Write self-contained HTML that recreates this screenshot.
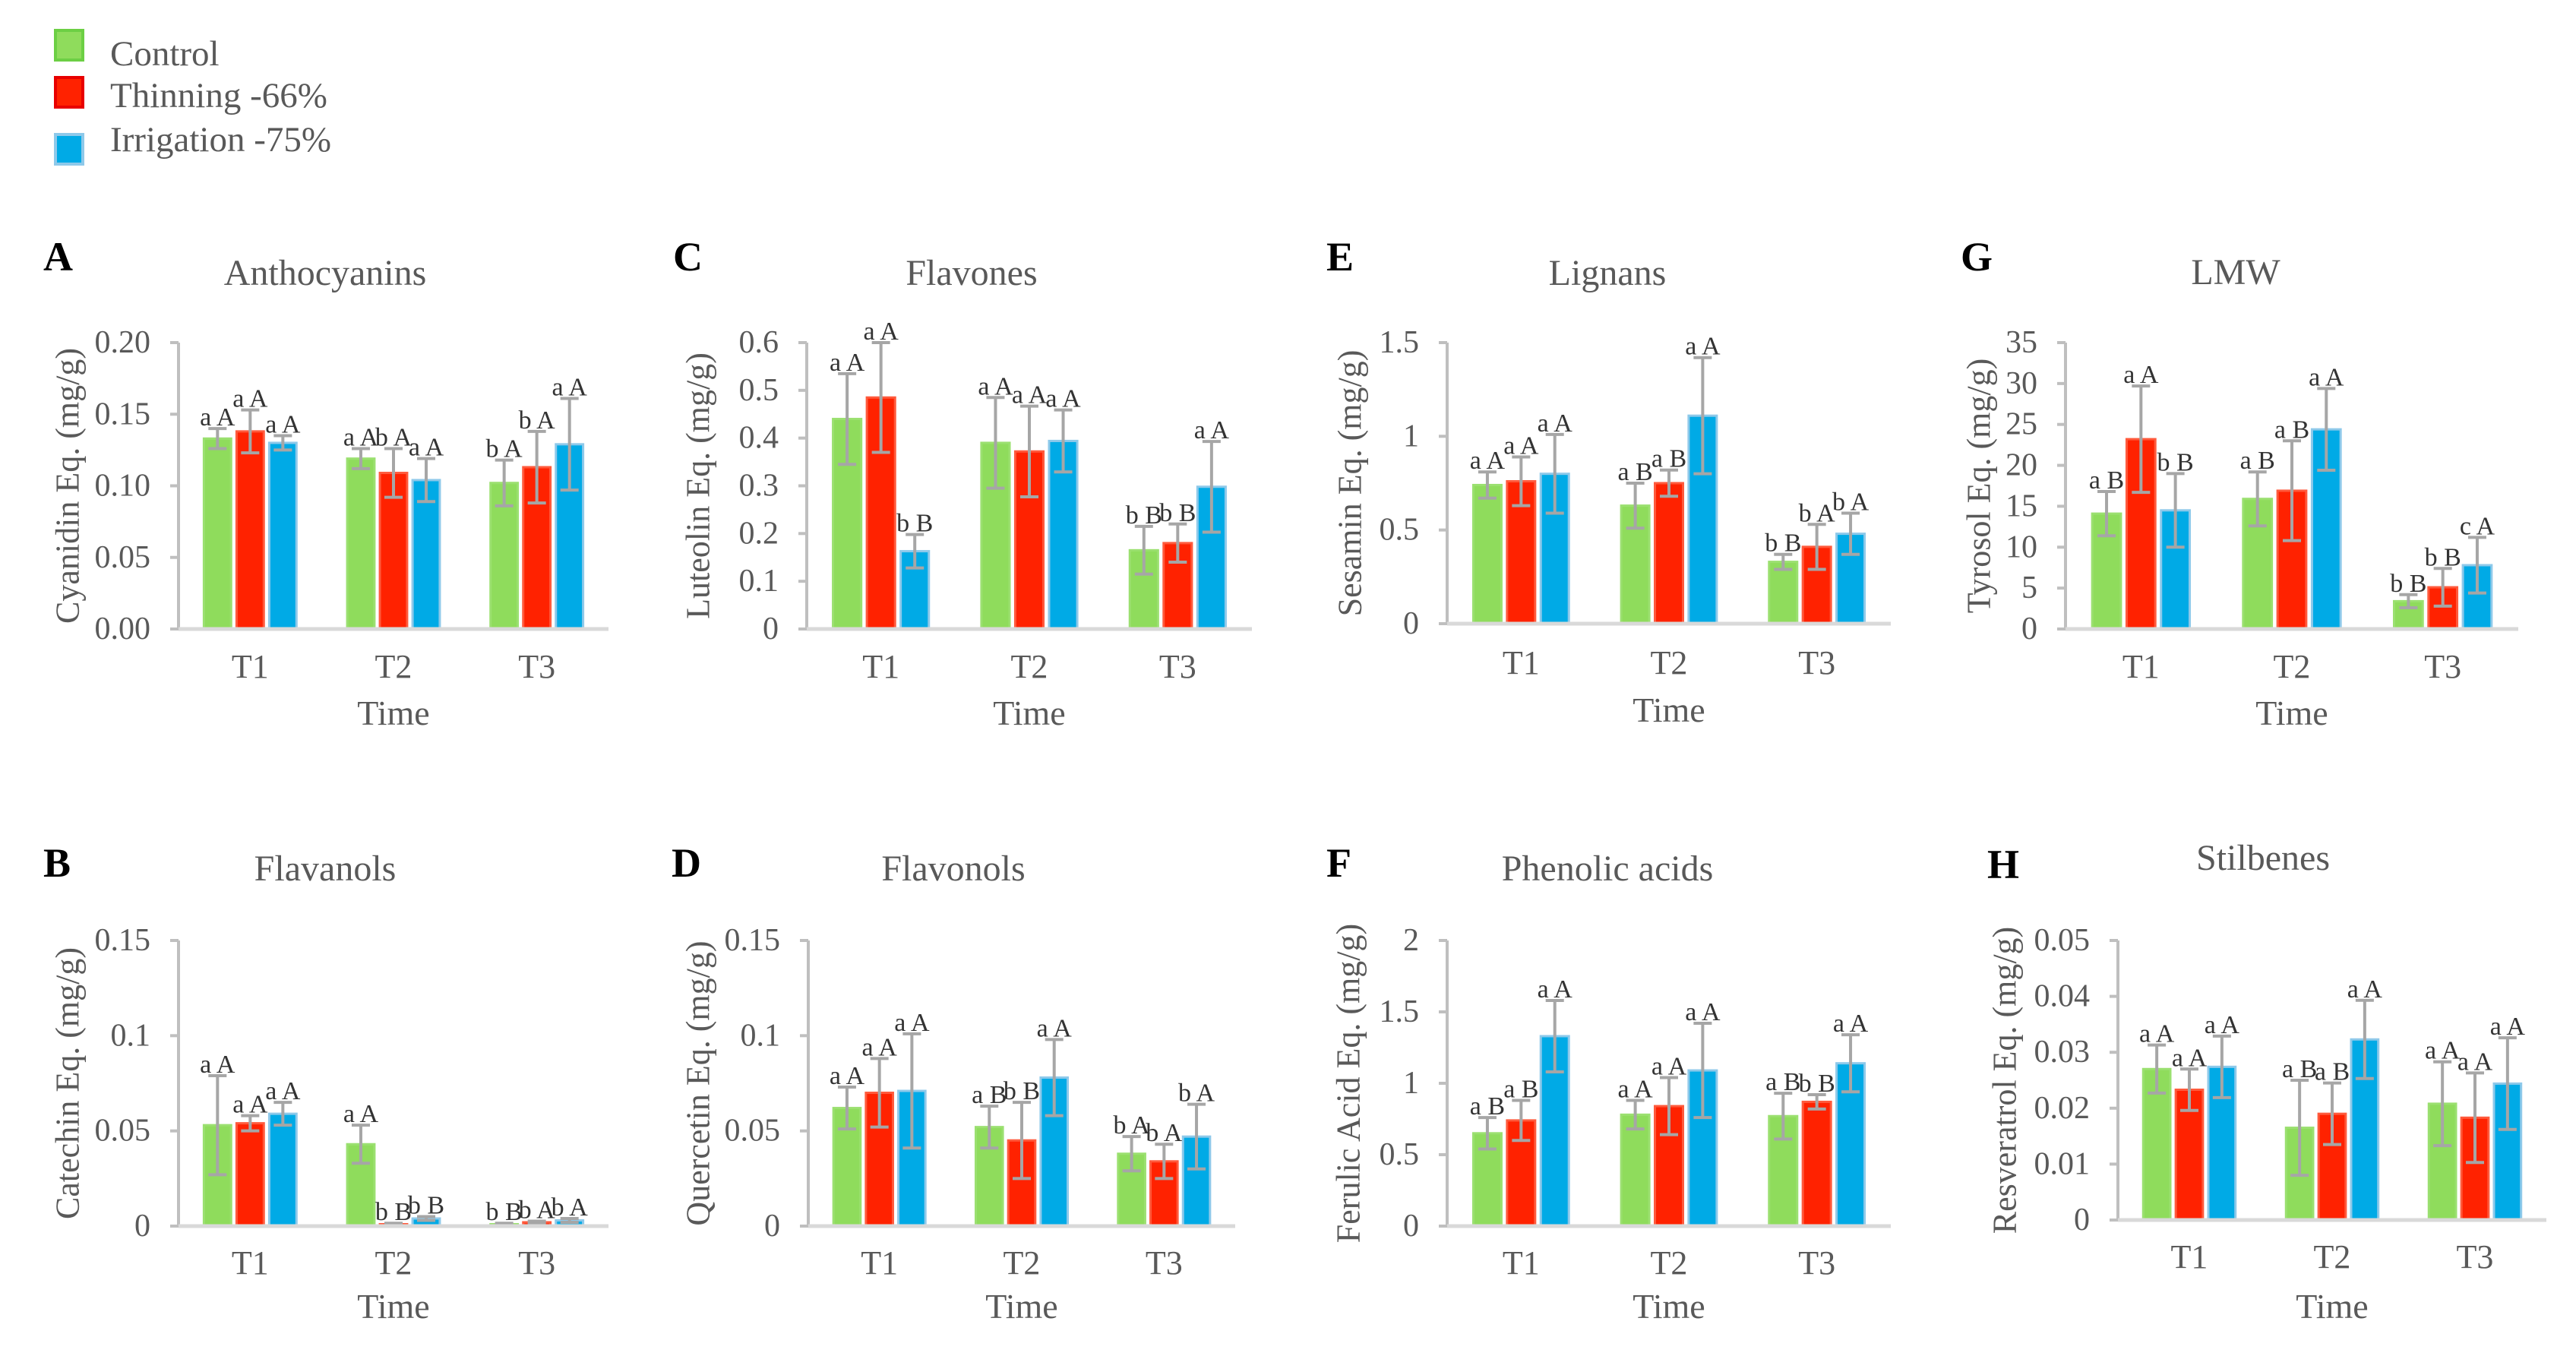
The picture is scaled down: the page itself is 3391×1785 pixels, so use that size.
<!DOCTYPE html>
<html><head><meta charset="utf-8">
<style>
html,body{margin:0;padding:0;background:#fff;}
svg{display:block;font-family:"Liberation Serif","Times New Roman",serif;}
</style></head>
<body>
<svg id="fig" width="3391" height="1785" viewBox="0 0 3391 1785" xmlns="http://www.w3.org/2000/svg">
<g>
  <g>
    <rect x="73" y="40" width="36" height="39" fill="#8fdc5c" stroke="#6ccf44" stroke-width="4"/>
    <text x="145" y="86" font-size="47" fill="#595959">Control</text>
  </g>
  <g>
    <rect x="73" y="102" width="36" height="39" fill="#ff2200" stroke="#e80000" stroke-width="4"/>
    <text x="145" y="141" font-size="47" fill="#595959">Thinning -66%</text>
  </g>
  <g>
    <rect x="73" y="177" width="36" height="39" fill="#00aae6" stroke="#8ec9ea" stroke-width="4"/>
    <text x="145" y="199" font-size="47" fill="#595959">Irrigation -75%</text>
  </g>
</g>
<g id="panels"></g>
</svg>
<script>
const categories = ['T1','T2','T3'];
const seriesNames = ['Control','Thinning -66%','Irrigation -75%'];

// A Anthocyanins
const anthoTicks = ['0.00','0.05','0.10','0.15','0.20'];
const anthoControl = [0.133,0.119,0.102];
const anthoThinning = [0.138,0.109,0.113];
const anthoIrrigation = [0.130,0.104,0.129];
const anthoControlErr = [0.007,0.007,0.016];
const anthoThinningErr = [0.015,0.017,0.025];
const anthoIrrigationErr = [0.005,0.015,0.032];
const anthoLetters = [['a A','a A','a A'],['a A','b A','a A'],['b A','b A','a A']];

// B Flavanols
const flavanolTicks = ['0','0.05','0.1','0.15'];
const flavanolControl = [0.053,0.043,0.001];
const flavanolThinning = [0.054,0.001,0.002];
const flavanolIrrigation = [0.059,0.004,0.003];
const flavanolControlErr = [0.026,0.010,0.0005];
const flavanolThinningErr = [0.004,0.0005,0.0006];
const flavanolIrrigationErr = [0.006,0.001,0.001];
const flavanolLetters = [['a A','a A','a A'],['a A','b B','b B'],['b B','b A','b A']];

// C Flavones
const flavoneTicks = ['0','0.1','0.2','0.3','0.4','0.5','0.6'];
const flavoneControl = [0.44,0.39,0.165];
const flavoneThinning = [0.485,0.372,0.18];
const flavoneIrrigation = [0.163,0.394,0.298];
const flavoneControlErr = [0.095,0.095,0.05];
const flavoneThinningErr = [0.115,0.095,0.04];
const flavoneIrrigationErr = [0.035,0.065,0.095];
const flavoneLetters = [['a A','a A','b B'],['a A','a A','a A'],['b B','b B','a A']];

// D Flavonols
const flavonolTicks = ['0','0.05','0.1','0.15'];
const flavonolControl = [0.062,0.052,0.038];
const flavonolThinning = [0.070,0.045,0.034];
const flavonolIrrigation = [0.071,0.078,0.047];
const flavonolControlErr = [0.011,0.011,0.009];
const flavonolThinningErr = [0.018,0.020,0.009];
const flavonolIrrigationErr = [0.030,0.020,0.017];
const flavonolLetters = [['a A','a A','a A'],['a B','b B','a A'],['b A','b A','b A']];

// E Lignans
const lignanTicks = ['0','0.5','1','1.5'];
const lignanControl = [0.74,0.63,0.33];
const lignanThinning = [0.76,0.75,0.41];
const lignanIrrigation = [0.80,1.11,0.48];
const lignanControlErr = [0.07,0.12,0.04];
const lignanThinningErr = [0.13,0.07,0.12];
const lignanIrrigationErr = [0.21,0.31,0.11];
const lignanLetters = [['a A','a A','a A'],['a B','a B','a A'],['b B','b A','b A']];

// F Phenolic acids
const phenolicTicks = ['0','0.5','1','1.5','2'];
const phenolicControl = [0.65,0.78,0.77];
const phenolicThinning = [0.74,0.84,0.87];
const phenolicIrrigation = [1.33,1.09,1.14];
const phenolicControlErr = [0.11,0.10,0.16];
const phenolicThinningErr = [0.14,0.20,0.05];
const phenolicIrrigationErr = [0.25,0.33,0.20];
const phenolicLetters = [['a B','a B','a A'],['a A','a A','a A'],['a B','b B','a A']];

// G LMW
const lmwTicks = ['0','5','10','15','20','25','30','35'];
const lmwControl = [14.1,15.9,3.4];
const lmwThinning = [23.2,16.9,5.1];
const lmwIrrigation = [14.5,24.4,7.8];
const lmwControlErr = [2.7,3.3,0.8];
const lmwThinningErr = [6.5,6.1,2.3];
const lmwIrrigationErr = [4.5,5.0,3.4];
const lmwLetters = [['a B','a A','b B'],['a B','a B','a A'],['b B','b B','c A']];

// H Stilbenes
const stilbeneTicks = ['0','0.01','0.02','0.03','0.04','0.05'];
const stilbeneControl = [0.027,0.0165,0.0208];
const stilbeneThinning = [0.0233,0.019,0.0183];
const stilbeneIrrigation = [0.0274,0.0323,0.0244];
const stilbeneControlErr = [0.0043,0.0085,0.0075];
const stilbeneThinningErr = [0.0037,0.0055,0.008];
const stilbeneIrrigationErr = [0.0055,0.007,0.0082];
const stilbeneLetters = [['a A','a A','a A'],['a B','a B','a A'],['a A','a A','a A']];

const NS='http://www.w3.org/2000/svg';
const root=document.getElementById('panels');
function mk(tag,attrs,parent){const e=document.createElementNS(NS,tag);for(const k in attrs)e.setAttribute(k,attrs[k]);parent.appendChild(e);return e;}

const fills=['#8fdc5c','#ff2200','#00aae6'];
const strokes=['#9be070','#ff5a3c','#8ec9ea'];

const panels=[
 {id:'A',key:'anthocyanins',title:'Anthocyanins',ylab:'Cyanidin Eq. (mg/g)',ticks:anthoTicks,vals:[anthoControl,anthoThinning,anthoIrrigation],errs:[anthoControlErr,anthoThinningErr,anthoIrrigationErr],letters:anthoLetters,
  ax:235,xend:801,top:451,zero:828,labX:57,labY:356,titleX:428,titleY:375,ylabX:89,tY:892,timeY:954},
 {id:'C',key:'flavones',title:'Flavones',ylab:'Luteolin Eq. (mg/g)',ticks:flavoneTicks,vals:[flavoneControl,flavoneThinning,flavoneIrrigation],errs:[flavoneControlErr,flavoneThinningErr,flavoneIrrigationErr],letters:flavoneLetters,
  ax:1062,xend:1648,top:451,zero:828,labX:886,labY:356,titleX:1279,titleY:375,ylabX:919,tY:892,timeY:954},
 {id:'E',key:'lignans',title:'Lignans',ylab:'Sesamin Eq. (mg/g)',ticks:lignanTicks,vals:[lignanControl,lignanThinning,lignanIrrigation],errs:[lignanControlErr,lignanThinningErr,lignanIrrigationErr],letters:lignanLetters,
  ax:1905,xend:2489,top:451,zero:821,labX:1746,labY:356,titleX:2116,titleY:375,ylabX:1777,tY:887,timeY:950},
 {id:'G',key:'lmw',title:'LMW',ylab:'Tyrosol Eq. (mg/g)',ticks:lmwTicks,vals:[lmwControl,lmwThinning,lmwIrrigation],errs:[lmwControlErr,lmwThinningErr,lmwIrrigationErr],letters:lmwLetters,
  ax:2719,xend:3315,top:451,zero:828,labX:2581,labY:356,titleX:2943,titleY:374,ylabX:2605,tY:892,timeY:954},
 {id:'B',key:'flavanols',title:'Flavanols',ylab:'Catechin Eq. (mg/g)',ticks:flavanolTicks,vals:[flavanolControl,flavanolThinning,flavanolIrrigation],errs:[flavanolControlErr,flavanolThinningErr,flavanolIrrigationErr],letters:flavanolLetters,
  ax:235,xend:801,top:1238,zero:1614,labX:57,labY:1154,titleX:428,titleY:1159,ylabX:89,tY:1677,timeY:1735},
 {id:'D',key:'flavonols',title:'Flavonols',ylab:'Quercetin Eq. (mg/g)',ticks:flavonolTicks,vals:[flavonolControl,flavonolThinning,flavonolIrrigation],errs:[flavonolControlErr,flavonolThinningErr,flavonolIrrigationErr],letters:flavonolLetters,
  ax:1064,xend:1626,top:1238,zero:1614,labX:884,labY:1154,titleX:1255,titleY:1159,ylabX:919,tY:1677,timeY:1735},
 {id:'F',key:'phenolic-acids',title:'Phenolic acids',ylab:'Ferulic Acid Eq. (mg/g)',ticks:phenolicTicks,vals:[phenolicControl,phenolicThinning,phenolicIrrigation],errs:[phenolicControlErr,phenolicThinningErr,phenolicIrrigationErr],letters:phenolicLetters,
  ax:1905,xend:2489,top:1238,zero:1614,labX:1746,labY:1154,titleX:2116,titleY:1159,ylabX:1775,tY:1677,timeY:1735},
 {id:'H',key:'stilbenes',title:'Stilbenes',ylab:'Resveratrol Eq. (mg/g)',ticks:stilbeneTicks,vals:[stilbeneControl,stilbeneThinning,stilbeneIrrigation],errs:[stilbeneControlErr,stilbeneThinningErr,stilbeneIrrigationErr],letters:stilbeneLetters,
  ax:2788,xend:3352,top:1238,zero:1606,labX:2616,labY:1156,titleX:2979,titleY:1145,ylabX:2639,tY:1669,timeY:1735}
];

const seriesKeys=['control','thinning','irrigation'];

panels.forEach(p=>{
  const g=mk('g',{},root);
  
  
  const tmin=parseFloat(p.ticks[0]), tmax=parseFloat(p.ticks[p.ticks.length-1]);
  const y=v=>p.zero-(v-tmin)/(tmax-tmin)*(p.zero-p.top);
  const band=(p.xend-p.ax)/categories.length;
  const xc=i=>p.ax+band*(i+0.5);
  const bw=band*0.19, step=band*0.228;

  const lab=mk('text',{x:p.labX,y:p.labY,'font-size':54,'font-weight':'bold',fill:'#000'},g);
  lab.textContent=p.id;
  
  

  const tt=mk('text',{x:p.titleX,y:p.titleY,'font-size':48,fill:'#595959','text-anchor':'middle'},g);
  tt.textContent=p.title;
  
  

  const cy=(p.top+p.zero)/2;
  const yl=mk('text',{x:p.ylabX,y:cy,'font-size':44,fill:'#595959','text-anchor':'middle','dominant-baseline':'central',transform:`rotate(-90 ${p.ylabX} ${cy})`},g);
  yl.textContent=p.ylab;
  
  

  const ya=mk('line',{x1:p.ax,y1:p.top,x2:p.ax,y2:p.zero,stroke:'#bfbfbf','stroke-width':4},g);
  
  
  p.ticks.forEach(t=>{
    const v=parseFloat(t), yy=y(v);
    mk('line',{x1:p.ax-11,y1:yy,x2:p.ax,y2:yy,stroke:'#bfbfbf','stroke-width':4},g);
    const tl=mk('text',{x:p.ax-37,y:yy,'font-size':42,fill:'#595959','text-anchor':'end','dominant-baseline':'central'},g);
    tl.textContent=t;
    
    
  });

  categories.forEach((c,i)=>{
    for(let s=0;s<3;s++){
      const v=p.vals[s][i], e=p.errs[s][i];
      const cx=xc(i)+(s-1)*step;
      const r=mk('rect',{x:cx-bw/2,y:y(v),width:bw,height:Math.max(0,y(tmin)-y(v)),fill:fills[s],stroke:strokes[s],'stroke-width':3},g);
      
      
      const eb=mk('g',{stroke:'#a6a6a6','stroke-width':4},g);
      
      
      mk('line',{x1:cx,y1:y(v+e),x2:cx,y2:y(Math.max(tmin,v-e))},eb);
      mk('line',{x1:cx-12,y1:y(v+e),x2:cx+12,y2:y(v+e)},eb);
      mk('line',{x1:cx-12,y1:y(Math.max(tmin,v-e)),x2:cx+12,y2:y(Math.max(tmin,v-e))},eb);
      const lt=mk('text',{x:cx,y:y(v+e)-4,'font-size':34,fill:'#333','text-anchor':'middle'},g);
      lt.textContent=p.letters[i][s];
      
      
    }
    const cl=mk('text',{x:xc(i),y:p.tY,'font-size':44,fill:'#595959','text-anchor':'middle'},g);
    cl.textContent=c;
    
    
  });

  const xa=mk('line',{x1:p.ax,y1:y(tmin),x2:p.xend,y2:y(tmin),stroke:'#d9d9d9','stroke-width':5},g);
  
  

  const xt=mk('text',{x:(p.ax+p.xend)/2,y:p.timeY,'font-size':46,fill:'#595959','text-anchor':'middle'},g);
  xt.textContent='Time';
  
  
});
</script>
</body></html>
